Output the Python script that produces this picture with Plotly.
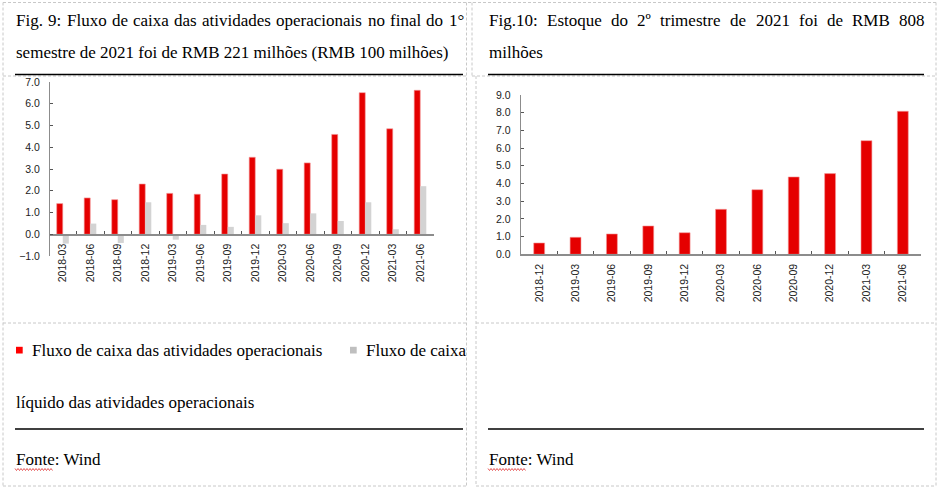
import plotly.graph_objects as go

# ---------------- data ----------------
cf_quarters = ["2018-03", "2018-06", "2018-09", "2018-12", "2019-03", "2019-06", "2019-09",
               "2019-12", "2020-03", "2020-06", "2020-09", "2020-12", "2021-03", "2021-06"]
op_cash_flow = [1.41, 1.67, 1.59, 2.31, 1.88, 1.84, 2.77, 3.54, 2.99, 3.28, 4.59, 6.51, 4.85, 6.62]
net_op_cash_flow = [-0.43, 0.49, -0.40, 1.47, -0.25, 0.43, 0.34, 0.87, 0.51, 0.96, 0.61, 1.47, 0.23, 2.21]

inv_quarters = ["2018-12", "2019-03", "2019-06", "2019-09", "2019-12", "2020-03",
                "2020-06", "2020-09", "2020-12", "2021-03", "2021-06"]
inventory = [0.64, 0.96, 1.15, 1.60, 1.22, 2.54, 3.65, 4.37, 4.56, 6.42, 8.08]

left_yticks = [-1, 0, 1, 2, 3, 4, 5, 6, 7]
right_yticks = [0, 1, 2, 3, 4, 5, 6, 7, 8, 9]

# ---------------- layout helpers ----------------
W, H = 939, 489
RED = "#E50000"
GRAY = "#D3D3D3"
AXIS = "#8C8C8C"
SERIF = "Liberation Serif, Times New Roman, serif"
SANS = "Liberation Sans, Arial, sans-serif"
FS = 17  # body text size (px)

# Times / Liberation Serif advance widths (1/1000 em) used to justify title lines
TW = {" ": 250, ".": 250, ":": 278, "F": 556, "E": 611, "R": 667, "M": 889, "B": 667,
      "a": 444, "c": 444, "d": 500, "e": 444, "f": 333, "g": 500, "i": 278, "l": 278,
      "m": 778, "n": 500, "o": 500, "p": 500, "q": 500, "r": 333, "s": 389, "t": 278,
      "u": 500, "v": 500, "x": 500, "°": 400, "º": 310}


def word_w(w):
    return sum(TW.get(ch, 500) for ch in w) / 1000 * FS


def px(x):
    return x / W


def py(y):
    return 1 - y / H


L_RANGE = [-1, 7]
L_TOP, L_BOT = 82, 256
R_RANGE = [0, 9]
R_TOP, R_BOT = 95, 254.3
l_dom = [py(L_BOT), py(L_TOP)]
r_dom = [py(R_BOT), py(R_TOP)]
zero_pos = l_dom[0] + (0 - L_RANGE[0]) / (L_RANGE[1] - L_RANGE[0]) * (l_dom[1] - l_dom[0])

fig = go.Figure()
fig.add_trace(go.Bar(x=cf_quarters, y=op_cash_flow, name="Fluxo de caixa das atividades operacionais",
                     marker=dict(color=RED, line=dict(color="#F39A9A", width=0.6)),
                     xaxis="x", yaxis="y", showlegend=False))
fig.add_trace(go.Bar(x=cf_quarters, y=net_op_cash_flow,
                     name="Fluxo de caixa líquido das atividades operacionais",
                     marker=dict(color=GRAY, line=dict(width=0)),
                     xaxis="x", yaxis="y", showlegend=False))
fig.add_trace(go.Bar(x=inv_quarters, y=inventory, name="Estoque",
                     marker=dict(color=RED, line=dict(color="#F39A9A", width=0.6)),
                     xaxis="x2", yaxis="y2", showlegend=False, width=0.3))

tickfont = dict(family=SANS, size=10.5, color="#222222")
common_x = dict(type="category", tickangle=-90, showline=True, linecolor=AXIS, linewidth=1.3,
                ticks="inside", ticklen=3, tickcolor="#555555", tickson="boundaries",
                showgrid=False, zeroline=False, tickfont=tickfont, ticklabelstandoff=4,
                automargin=False)
common_y = dict(showline=True, linecolor=AXIS, linewidth=1.3, ticks="inside", ticklen=3,
                tickcolor="#555555", showgrid=False, zeroline=False, tickformat=".1f",
                tickfont=tickfont, ticklabelstandoff=7, automargin=False)

fig.update_layout(
    template="none",
    width=W, height=H, margin=dict(l=0, r=0, t=0, b=0, pad=0, autoexpand=False),
    paper_bgcolor="white", plot_bgcolor="white",
    barmode="group", bargap=0.56, bargroupgap=0,
    xaxis=dict(domain=[px(49), px(434)], anchor="free", position=zero_pos,
               range=[-0.5, len(cf_quarters) - 0.5], **common_x),
    yaxis=dict(domain=l_dom, anchor="free", position=px(49), range=L_RANGE,
               tickvals=left_yticks, **common_y),
    xaxis2=dict(domain=[px(521), px(921)], anchor="y2",
                range=[-0.5, len(inv_quarters) - 0.5], **common_x),
    yaxis2=dict(domain=r_dom, anchor="x2", range=R_RANGE, tickvals=right_yticks, **common_y),
)

shapes = []
dash = dict(color="#C8C8C8", width=1, dash="3px,2px")
# cell borders (dashed)
for (x0, y0, x1, y1) in [
    (3, 2.5, 936, 2.5), (3, 76, 466, 76), (472, 76, 936, 76),
    (3, 323, 466, 323), (476, 323, 936, 323), (3, 486, 466, 486), (476, 486, 936, 486),
    (3, 2.5, 3, 486), (466.5, 2.5, 466.5, 486), (472, 2.5, 472, 76), (476, 76, 476, 486),
    (936, 2.5, 936, 486),
]:
    shapes.append(dict(type="line", xref="paper", yref="paper", x0=px(x0), y0=py(y0),
                       x1=px(x1), y1=py(y1), line=dash))
# solid rules
for (x0, x1, y) in [(15, 463, 74.5), (488, 924, 74.5), (15, 463, 429), (488, 924, 429)]:
    shapes.append(dict(type="line", xref="paper", yref="paper", x0=px(x0), y0=py(y), x1=px(x1),
                       y1=py(y), line=dict(color="black", width=1.5)))
# legend squares
for (x0, col) in [(16, "#FF0000"), (350, "#BFBFBF")]:
    shapes.append(dict(type="rect", xref="paper", yref="paper", x0=px(x0), x1=px(x0 + 6.7),
                       y0=py(353.5), y1=py(346.8), fillcolor=col, line=dict(width=0)))
# spell-check wavy underline under "Fonte"
for (xs, xe) in [(15, 53), (488, 526)]:
    pts = []
    x = xs
    k = 0
    while x <= xe:
        yv = 468.5 if k % 2 == 0 else 470.5
        pts.append(f"{px(x):.5f},{py(yv):.5f}")
        x += 1.5
        k += 1
    shapes.append(dict(type="path", xref="paper", yref="paper", path="M " + " L ".join(pts),
                       line=dict(color="#E03030", width=0.8)))
fig.update_layout(shapes=shapes)

annots = []


def text(x, y, s):
    annots.append(dict(xref="paper", yref="paper", x=px(x), y=py(y), text=s, showarrow=False,
                       xanchor="left", yanchor="middle", borderpad=0,
                       font=dict(family=SERIF, size=FS, color="black")))


def justified(line, x0, x1, y):
    words = line.split(" ")
    widths = [word_w(w) for w in words]
    gap = (x1 - x0 - sum(widths)) / (len(words) - 1)
    x = x0
    for w, ww in zip(words, widths):
        text(x, y, w)
        x += ww + gap


justified("Fig. 9: Fluxo de caixa das atividades operacionais no final do 1°", 15, 463, 20)
text(15, 52, "semestre de 2021 foi de RMB 221 milhões (RMB 100 milhões)")
justified("Fig.10: Estoque do 2º trimestre de 2021 foi de RMB 808", 488, 924, 20)
text(488, 52, "milhões")
text(31, 350, "Fluxo de caixa das atividades operacionais")
text(365, 350, "Fluxo de caixa")
text(15, 402, "líquido das atividades operacionais")
text(15, 459, "Fonte: Wind")
text(488, 459, "Fonte: Wind")
fig.update_layout(annotations=annots)

fig.write_html("out.html", config={"displayModeBar": False, "staticPlot": True},
               post_script="document.body.style.margin='0';document.body.style.overflow='hidden';")
